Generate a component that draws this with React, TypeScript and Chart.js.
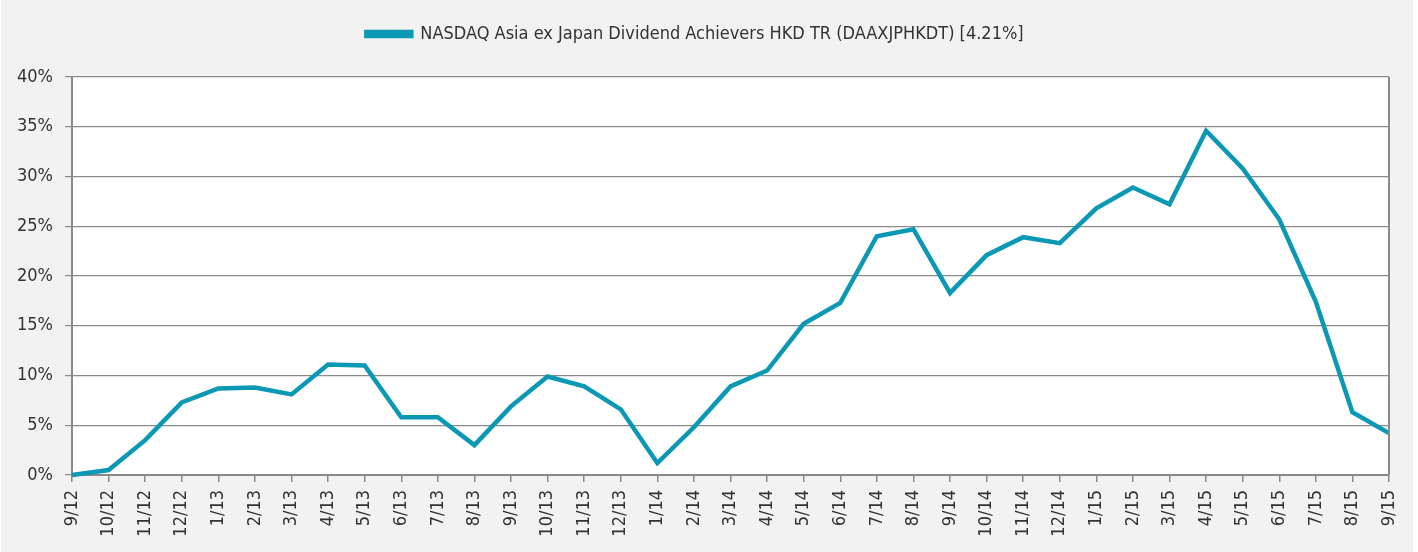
import React, { useEffect, useRef } from "react";
import { Chart, registerables } from "chart.js";

Chart.register(...registerables);

const labels = [
  "9/12", "10/12", "11/12", "12/12", "1/13", "2/13", "3/13", "4/13", "5/13", "6/13", "7/13", "8/13",
  "9/13", "10/13", "11/13", "12/13", "1/14", "2/14", "3/14", "4/14", "5/14", "6/14", "7/14", "8/14",
  "9/14", "10/14", "11/14", "12/14", "1/15", "2/15", "3/15", "4/15", "5/15", "6/15", "7/15", "8/15", "9/15",
];

const seriesValues = [
  0, 0.5, 3.5, 7.3, 8.7, 8.8, 8.1, 11.1, 11.0, 5.8, 5.8, 3.0,
  6.9, 9.9, 8.9, 6.6, 1.2, 4.8, 8.9, 10.5, 15.2, 17.3, 24.0, 24.7,
  18.3, 22.1, 23.9, 23.3, 26.8, 28.9, 27.2, 34.6, 30.8, 25.7, 17.4, 6.3, 4.21,
];

const seriesName = "NASDAQ Asia ex Japan Dividend Achievers HKD TR (DAAXJPHKDT) [4.21%]";

const FONT = "'Liberation Sans Narrow', 'DejaVu Sans Condensed', Roboto, sans-serif";
const AXIS = "#8a8a8a";
const TEXT = "#333333";

const plotBg = {
  id: "plotBg",
  afterInit(chart: any) {
    const legend = chart.legend;
    if (legend) {
      const fit = legend.fit;
      legend.fit = function () {
        fit.call(this);
        this.height = 64;
      };
    }
  },
  beforeDraw(chart: any) {
    const { ctx, chartArea } = chart;
    ctx.save();
    ctx.fillStyle = "#ffffff";
    ctx.fillRect(chartArea.left, chartArea.top, chartArea.right - chartArea.left, chartArea.bottom - chartArea.top);
    ctx.restore();
  },
  afterDatasetsDraw(chart: any) {
    const { ctx, chartArea } = chart;
    ctx.save();
    ctx.strokeStyle = AXIS;
    ctx.lineWidth = 2;
    ctx.beginPath();
    ctx.moveTo(chartArea.right, chartArea.top);
    ctx.lineTo(chartArea.right, chartArea.bottom);
    ctx.stroke();
    ctx.restore();
  },
};

export default function App() {
  const ref = useRef<HTMLCanvasElement>(null);
  useEffect(() => {
    const chart = new Chart(ref.current!, {
      type: "line",
      data: {
        labels,
        datasets: [
          {
            label: seriesName,
            data: seriesValues,
            borderColor: "#0a98b5",
            backgroundColor: "#0a98b5",
            borderWidth: 4.5,
            pointRadius: 0,
            tension: 0,
            clip: false,
          },
        ],
      },
      options: {
        animation: false,
        responsive: false,
        layout: { padding: { left: 0, right: 24, top: 13, bottom: 0 } },
        plugins: {
          legend: {
            labels: {
              color: TEXT,
              font: { family: FONT, size: 18 },
              boxWidth: 45,
              boxHeight: 4,
              padding: 12,
            },
          },
          tooltip: { enabled: false },
        },
        scales: {
          x: {
            offset: false,
            grid: { display: true, drawOnChartArea: false, drawTicks: true, tickLength: 7, color: AXIS, lineWidth: 1.5 },
            border: { color: AXIS, width: 2 },
            ticks: {
              color: TEXT,
              font: { family: FONT, size: 18 },
              minRotation: 90,
              maxRotation: 90,
              autoSkip: false,
              padding: 8,
            },
            afterFit(scale: any) {
              scale.height = 77;
              scale.paddingLeft = 0;
              scale.paddingRight = 0;
            },
          },
          y: {
            min: 0,
            max: 40,
            grid: { color: AXIS, lineWidth: 1.2, tickLength: 7 },
            border: { color: AXIS, width: 2 },
            ticks: {
              stepSize: 5,
              color: TEXT,
              font: { family: FONT, size: 18 },
              padding: 12,
              callback: (v: any) => v + "%",
            },
            afterFit(scale: any) {
              scale.width = 71;
            },
          },
        },
      },
      plugins: [plotBg],
    });
    return () => chart.destroy();
  }, []);
  return (
    <div style={{ position: "absolute", left: 1, top: 0, width: 1412, height: 552, background: "#f2f2f2" }}>
      <canvas ref={ref} width={1412} height={552} style={{ display: "block" }} />
    </div>
  );
}
